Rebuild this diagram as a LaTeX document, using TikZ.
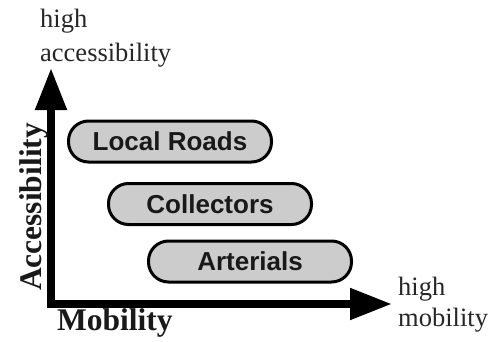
\documentclass[tikz,border=0pt]{standalone}
\usepackage{fontspec}
\setmainfont{Liberation Serif}
\setsansfont{Liberation Sans}
\usetikzlibrary{arrows.meta}
\begin{document}
\begin{tikzpicture}[x=1pt,y=-1pt,
  road/.style={draw=black, line width=3pt, fill=black!20, rounded corners=20pt,
    minimum width=203pt, minimum height=41pt, inner sep=0pt,
    font=\sffamily\bfseries\fontsize{26}{30}\selectfont, text=black!90},
  axislabel/.style={font=\bfseries\fontsize{31.5}{34}\selectfont, inner sep=0pt, text=black!90},
  endlabel/.style={font=\fontsize{26.5}{34}\selectfont, align=left, inner sep=0pt, text=black!85},
  axis/.style={line width=8pt, line join=miter,
    {Triangle[length=42pt,width=30pt]}-{Triangle[length=42pt,width=30pt]}}]
\useasboundingbox (0,0) rectangle (489,342);
\coordinate (ytip) at (51,68);
\coordinate (origin) at (51,304);
\coordinate (xtip) at (392,304);
\draw[axis] (ytip) -- (origin) -- (xtip);
\node[road] (loc) at (170,141.5) {Local Roads};
\node[road] (col) at (210,204) {Collectors};
\node[road] (art) at (250,261.5) {Arterials};
\node[endlabel, anchor=north west] (hacc) at (40,9) {high\\accessibility};
\node[endlabel, anchor=north west, font=\fontsize{26.5}{31}\selectfont] (hmob) at (398,277) {high\\mobility};
\node[axislabel, anchor=base west] (mob) at (57,330) {Mobility};
\node[axislabel, anchor=base, rotate=90] (acc) at (41,207) {Accessibility};
\end{tikzpicture}
\end{document}
